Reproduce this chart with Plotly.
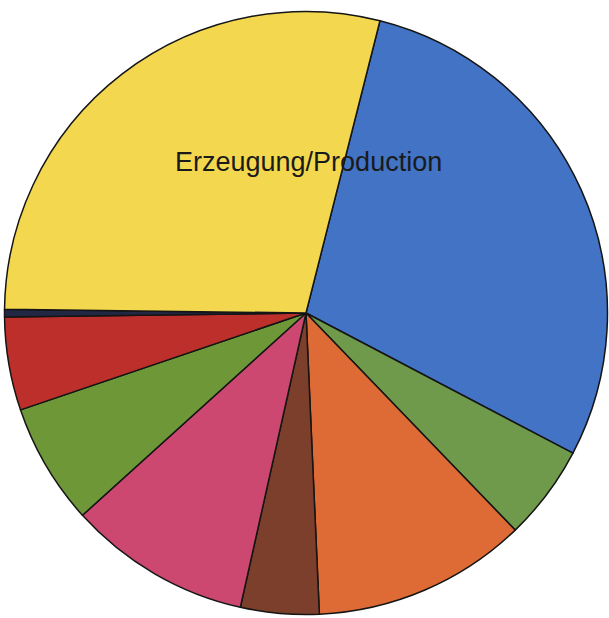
import plotly.graph_objects as go

labels = ["Blau", "Grün 1", "Orange", "Braun", "Rosa", "Grün 2", "Rot", "Dunkel", "Gelb"]
values = [28.75, 5.1, 11.5, 4.2, 9.8, 6.5, 5.0, 0.4, 28.75]
colors = ["#4273C5", "#6F9A4B", "#DE6A35", "#7C3F2B", "#CC4870",
          "#6E9838", "#BD2F2A", "#222744", "#F3D84F"]
title_text = "Erzeugung/Production"

W, H = 609, 618
cx, cy, r = 306, 313, 301.5

fig = go.Figure(go.Pie(
    labels=labels,
    values=values,
    sort=False,
    direction="clockwise",
    rotation=14.2,
    marker=dict(colors=colors, line=dict(color="#151515", width=1.5)),
    textinfo="none",
    hoverinfo="label+percent",
    showlegend=False,
    domain=dict(x=[(cx - r) / W, (cx + r) / W],
                y=[(H - cy - r) / H, (H - cy + r) / H]),
))

fig.add_annotation(
    x=308 / W, y=1 - 162 / H, xref="paper", yref="paper",
    xanchor="center", yanchor="middle",
    text=title_text, showarrow=False,
    font=dict(family="Liberation Sans, Arial, sans-serif", size=27, color="#1a1a1a"),
)

fig.update_layout(
    width=W, height=H,
    margin=dict(l=0, r=0, t=0, b=0),
    paper_bgcolor="white",
    plot_bgcolor="white",
)

fig.write_html("out.html",
               config={"displayModeBar": False},
               post_script="document.body.style.margin='0';document.body.style.overflow='hidden';")
